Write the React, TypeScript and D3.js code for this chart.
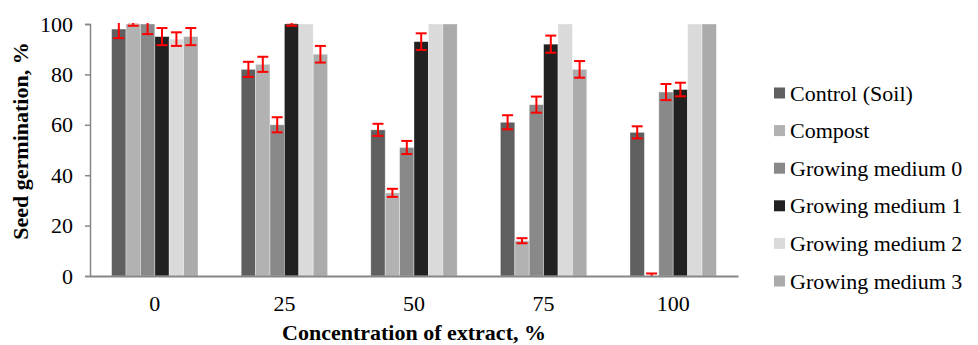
import React, { useEffect, useRef } from "react";
import * as d3 from "d3";

const categories = ["0", "25", "50", "75", "100"];
const seriesNames = [
  "Control (Soil)",
  "Compost",
  "Growing medium 0",
  "Growing medium 1",
  "Growing medium 2",
  "Growing medium 3",
];
const seriesColors = ["#5f5f5f", "#b2b2b2", "#898989", "#212121", "#dadada", "#ababab"];

const control = [98, 82, 58, 61, 57];
const controlErr = [3.6, 3, 2.4, 2.8, 2.4];
const compost = [100, 84, 33, 14, 0];
const compostErr = [0.7, 3, 1.6, 1, 1];
const medium0 = [100, 60, 51, 68, 73];
const medium0Err = [4, 3, 2.6, 3.2, 3.2];
const medium1 = [95, 100, 93, 92, 74];
const medium1Err = [3.4, 0.7, 3.3, 3.4, 2.7];
const medium2 = [94, 100, 100, 100, 100];
const medium2Err = [2.7, 0, 0, 0, 0];
const medium3 = [95, 88, 100, 82, 100];
const medium3Err = [3.4, 3.3, 0, 3.3, 0];

const yTicks = [0, 20, 40, 60, 80, 100];

const App = () => {
  const ref = useRef<SVGSVGElement>(null);

  useEffect(() => {
    document.body.style.margin = "0";
    const svg = d3.select(ref.current);
    svg.selectAll("*").remove();

    const values = [control, compost, medium0, medium1, medium2, medium3];
    const errors = [controlErr, compostErr, medium0Err, medium1Err, medium2Err, medium3Err];

    const left = 90;
    const right = 738;
    const top = 24;
    const bottom = 276;
    const font = "'Liberation Serif', 'Times New Roman', serif";

    const x0 = d3
      .scaleBand()
      .domain(categories)
      .range([left, right])
      .paddingInner(1 / 3)
      .paddingOuter(1 / 6);
    const x1 = d3
      .scaleBand()
      .domain(seriesNames)
      .range([0, x0.bandwidth()]);
    const y = d3.scaleLinear().domain([0, 100]).range([bottom, top]);

    svg
      .append("defs")
      .append("clipPath")
      .attr("id", "plot-clip")
      .append("rect")
      .attr("x", left)
      .attr("y", top - 1)
      .attr("width", right - left)
      .attr("height", bottom - top + 1);

    // bars
    const rows = categories.flatMap((c, i) =>
      seriesNames.map((s, j) => ({
        cat: c,
        series: s,
        value: values[j][i],
        err: errors[j][i],
        color: seriesColors[j],
      }))
    );

    svg
      .append("g")
      .selectAll("rect")
      .data(rows)
      .join("rect")
      .attr("x", (d) => x0(d.cat)! + x1(d.series)!)
      .attr("y", (d) => y(d.value))
      .attr("width", x1.bandwidth())
      .attr("height", (d) => y(0) - y(d.value))
      .attr("fill", (d) => d.color)
      .attr("stroke", "rgba(255,255,255,0.45)")
      .attr("stroke-width", 0.8);

    // error bars
    const errG = svg
      .append("g")
      .attr("clip-path", "url(#plot-clip)")
      .attr("stroke", "#ff0000")
      .attr("stroke-width", 2);
    const errRows = rows.filter((d) => d.err > 0);
    errRows.forEach((d) => {
      const cx = x0(d.cat)! + x1(d.series)! + x1.bandwidth() / 2;
      const yHi = y(d.value + d.err);
      const yLo = y(d.value - d.err);
      errG.append("line").attr("x1", cx).attr("x2", cx).attr("y1", yHi).attr("y2", yLo);
      errG.append("line").attr("x1", cx - 5.5).attr("x2", cx + 5.5).attr("y1", yHi).attr("y2", yHi);
      errG.append("line").attr("x1", cx - 5.5).attr("x2", cx + 5.5).attr("y1", yLo).attr("y2", yLo);
    });

    // y axis
    const yAxis = svg
      .append("g")
      .attr("transform", `translate(${left},0)`)
      .call(d3.axisLeft(y).tickValues(yTicks).tickSize(5).tickPadding(12));
    yAxis.select(".domain").attr("stroke", "#868686").attr("stroke-width", 1.5);
    yAxis.selectAll(".tick line").attr("stroke", "#868686").attr("stroke-width", 1.5);
    yAxis
      .selectAll(".tick text")
      .attr("fill", "#000")
      .style("font-family", font)
      .style("font-size", "22px");

    // x axis
    const xAxis = svg
      .append("g")
      .attr("transform", `translate(0,${bottom})`)
      .call(d3.axisBottom(x0).tickSize(0).tickPadding(19).tickSizeOuter(0));
    xAxis.select(".domain").attr("stroke", "#868686").attr("stroke-width", 2);
    xAxis
      .selectAll(".tick text")
      .attr("fill", "#000")
      .style("font-family", font)
      .style("font-size", "22px");

    svg
      .append("text")
      .attr("x", (left + right) / 2)
      .attr("y", 340)
      .attr("text-anchor", "middle")
      .style("font-family", font)
      .style("font-size", "22px")
      .style("font-weight", "bold")
      .text("Concentration of extract, %");

    svg
      .append("text")
      .attr("transform", "rotate(-90)")
      .attr("x", -141)
      .attr("y", 28)
      .attr("text-anchor", "middle")
      .style("font-family", font)
      .style("font-size", "22px")
      .style("font-weight", "bold")
      .text("Seed germination, %");

    // legend
    const legend = svg.append("g").attr("transform", "translate(774,93)");
    seriesNames.forEach((name, i) => {
      const item = legend.append("g").attr("transform", `translate(0,${i * 37.6})`);
      item
        .append("rect")
        .attr("x", 0)
        .attr("y", -5.5)
        .attr("width", 11)
        .attr("height", 11)
        .attr("fill", seriesColors[i]);
      item
        .append("text")
        .attr("x", 16)
        .attr("y", 7.5)
        .style("font-family", font)
        .style("font-size", "22px")
        .text(name);
    });
  }, []);

  return <svg ref={ref} width={978} height={345} style={{ display: "block", background: "#fff" }} />;
};

export default App;
